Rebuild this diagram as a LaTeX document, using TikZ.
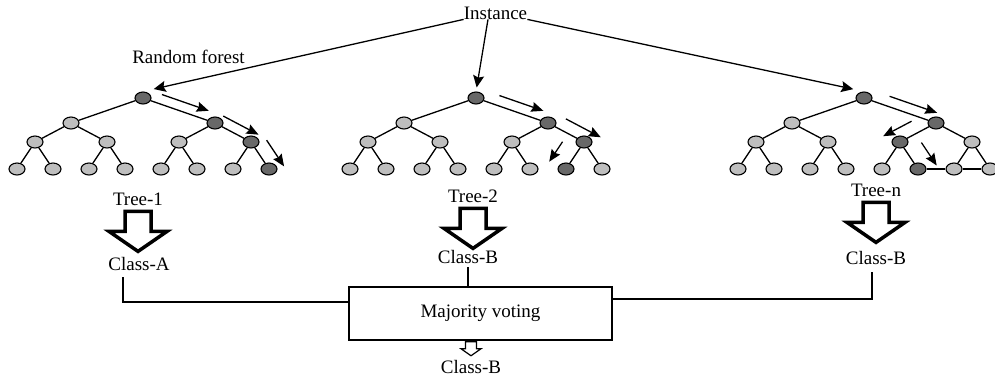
\documentclass[tikz,border=0pt]{standalone}
\usepackage{fontspec}
\setmainfont{Liberation Serif}
\usetikzlibrary{
  arrows.meta,
  calc,
  positioning,
  shapes.geometric
}
\definecolor{nodelight}{RGB}{190,190,190}
\definecolor{nodedark}{RGB}{104,104,104}
% arrow running beside an edge (#1 -> #2), from t=#3 to t=#4, offset #5 on side #6
\newcommand{\walk}[6]{%
  \draw[walkarr] ($(#1)!#3!(#2)!#5!#6:(#1)$) -- ($(#1)!#4!(#2)!#5!#6:(#1)$);}
% hollow block arrow hanging below a point
\newcommand{\blockdown}[1]{%
  \draw[hollow] #1 ++(-13,6) -- ++(0,20) -- ++(-16,0) -- ++(29,20)
    -- ++(29,-20) -- ++(-16,0) -- ++(0,-20) -- cycle;}

\begin{document}
\begin{tikzpicture}[
  x=1pt, y=-1pt,
  vertex/.style={ellipse, draw, line width=1.1pt, fill=nodelight,
                 minimum width=16pt, minimum height=12pt, inner sep=0pt},
  visited/.style={vertex, fill=nodedark},
  edge/.style={line width=1.3pt},
  lbl/.style={font=\fontsize{19}{22}\selectfont, inner sep=0pt, anchor=base},
  inarr/.style={-{Stealth[length=12pt, width=11pt, inset=2pt]}, line width=1.3pt},
  walkarr/.style={-{Stealth[length=12pt, width=10pt, inset=1.5pt]}, line width=1.3pt},
  hollow/.style={line width=3.5pt, line join=miter, fill=white},
  vote/.style={draw, line width=1.5pt, minimum width=263pt, minimum height=53pt,
               font=\fontsize{19}{22}\selectfont}
]
\useasboundingbox (0,0) rectangle (995,381);

% ── Trees ──
\foreach \tr/\x/\dk/\dl in {a/143/7/15, b/476/7/14, n/864/6/13}{
  \foreach \i/\dx/\y in {1/0/98, 2/-72/123, 3/72/123,
      4/-108/142, 5/-36/142, 6/36/142, 7/108/142,
      8/-126/169, 9/-90/169, 10/-54/169, 11/-18/169,
      12/18/169, 13/54/169, 14/90/169, 15/126/169}{
    \def\sty{vertex}
    \ifnum\i=1 \def\sty{visited}\fi
    \ifnum\i=3 \def\sty{visited}\fi
    \ifnum\i=\dk \def\sty{visited}\fi
    \ifnum\i=\dl \def\sty{visited}\fi
    \node[\sty] (\tr\i) at ({\x+\dx},\y) {};
  }
  \foreach \i in {2,...,15}{
    \pgfmathtruncatemacro{\up}{\i/2}
    \draw[edge] (\tr\up) -- (\tr\i);
  }
}
\draw[edge] (n13) -- (n14) -- (n15);

% ── Decision paths ──
\walk{a1}{a3}{0.22}{0.87}{9.5pt}{-90}
\walk{a3}{a7}{0.10}{1.08}{10pt}{-90}
\walk{a7}{a15}{0.22}{1.19}{14pt}{-90}
\walk{b1}{b3}{0.28}{0.89}{10pt}{-90}
\walk{b3}{b7}{0.34}{1.31}{12pt}{-90}
\walk{b7}{b14}{0.36}{1.10}{18pt}{90}
\walk{n1}{n3}{0.31}{0.97}{10pt}{-90}
\walk{n3}{n6}{0.51}{1.30}{13pt}{90}
\walk{n6}{n13}{0.38}{1.23}{17.5pt}{-90}

% ── Input ──
\node[lbl] (inst) at (495.5,19) {Instance};
\node[lbl] (forest) at (188.5,63) {Random forest};
\draw[inarr, shorten >=11pt] (inst.south west) -- (a1.north);
\draw[inarr, shorten >=4pt] ([xshift=-7.5pt]inst.south) -- (b1.north);
\draw[inarr, shorten >=11pt] (inst.south east) -- (n1.north);

% ── Tree outputs ──
\node[lbl] (ta) at (138,205) {Tree-1};
\node[lbl] (tb) at (473,202) {Tree-2};
\node[lbl] (tn) at (876,196) {Tree-n};
\blockdown{(ta.south)}
\blockdown{(tb.south)}
\blockdown{(tn.south)}
\node[lbl] (ca) at (139,270) {Class-A};
\node[lbl] (cb) at (468,263) {Class-B};
\node[lbl] (cn) at (876,264) {Class-B};

% ── Voting ──
\node[vote] (vote) at (480.5,313.5) {Majority voting};
\draw[line width=1.3pt] ([xshift=-16pt,yshift=-7pt]ca.south) |- ([yshift=11.5pt]vote.west);
\draw[line width=1.3pt] ([yshift=-4pt]cb.south) -- (cb.south |- vote.north);
\draw[line width=1.3pt] ([xshift=-4pt,yshift=-8pt]cn.south) |- ([yshift=14.5pt]vote.east);

\node[lbl] (cout) at (471,373) {Class-B};
\draw[line width=1.2pt, line join=miter, fill=white] (vote.south -| cout) ++(-5.5,1)
  -- ++(0,7) -- ++(-4.5,0) -- ++(10,7) -- ++(10,-7) -- ++(-4.5,0) -- ++(0,-7) -- cycle;

\end{tikzpicture}
\end{document}
